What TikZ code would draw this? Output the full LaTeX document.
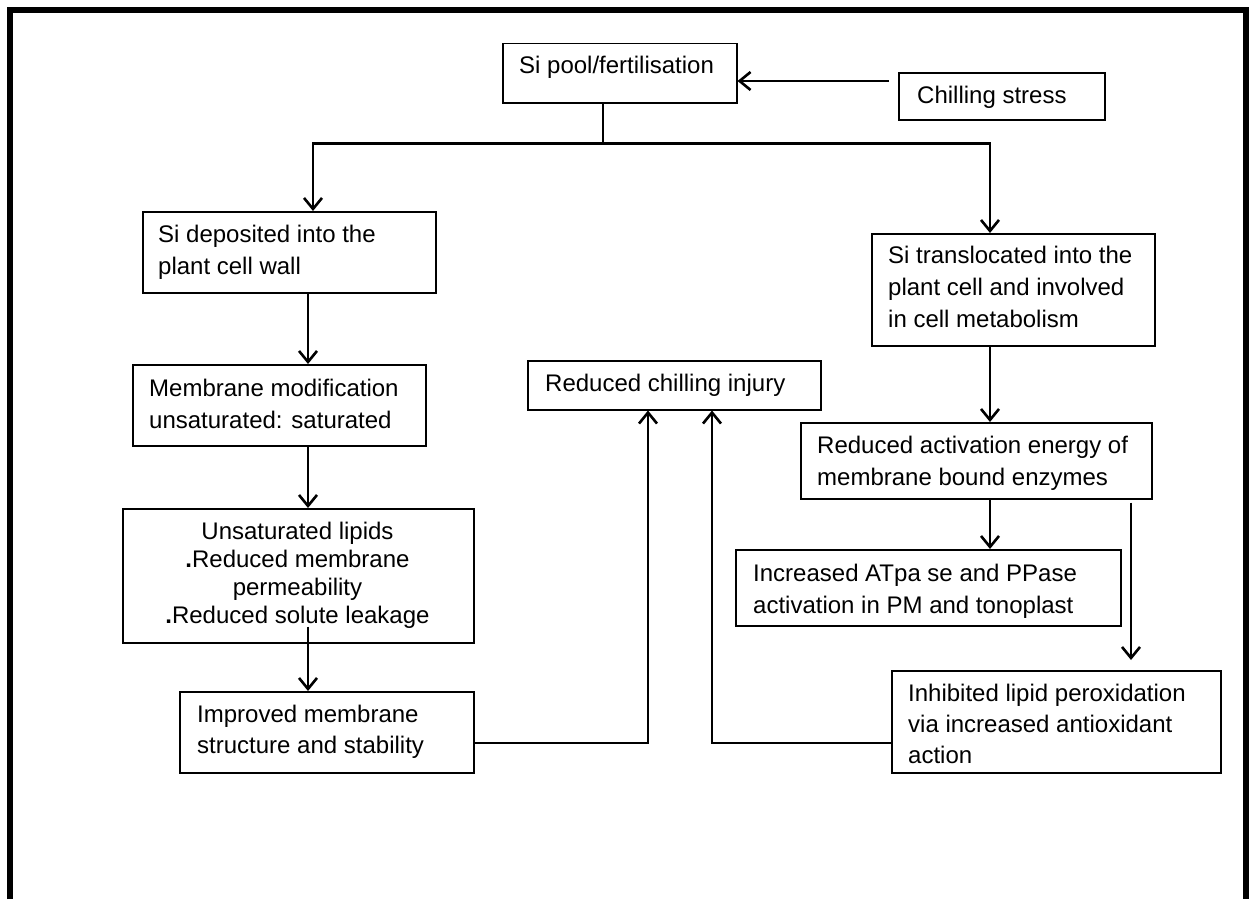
\documentclass[tikz,border=0pt]{standalone}
\usepackage{fontspec}
\setmainfont{Liberation Sans}
\usetikzlibrary{arrows.meta,calc}
\begin{document}
\begin{tikzpicture}[x=1pt,y=-1pt,
  box/.style={draw, line width=1.5pt, inner sep=0pt, anchor=north west},
  txt/.style={inner sep=0pt, anchor=base west, align=left, font=\fontsize{24}{32}\selectfont},
  arr/.style={line width=2.6pt, -{Straight Barb[length=11pt,width=18pt]}},
  ln/.style={line width=2.6pt},
  frame/.style={line width=6pt}]
\useasboundingbox (0,0) rectangle (1252,899);
\fill[white] (0,0) rectangle (1252,899);
\draw[frame] (10,899) -- (10,10) -- (1246,10) -- (1246,899);

% boxes
\node[box, minimum width=234pt, minimum height=59pt] (pool) at (502,43) {};
\node[box, minimum width=206pt, minimum height=47pt] (chill) at (898,72) {};
\node[box, minimum width=293pt, minimum height=81pt] (dep) at (142,211) {};
\node[box, minimum width=293pt, minimum height=81pt] (mod) at (132,364) {};
\node[box, minimum width=351pt, minimum height=134pt] (unsat) at (122,508) {};
\node[box, minimum width=294pt, minimum height=81pt] (imp) at (179,691) {};
\node[box, minimum width=293pt, minimum height=49pt] (red) at (527,360) {};
\node[box, minimum width=283pt, minimum height=112pt] (trans) at (871,233) {};
\node[box, minimum width=351pt, minimum height=76pt] (act) at (800,422) {};
\node[box, minimum width=385pt, minimum height=76pt] (atp) at (735,549) {};
\node[box, minimum width=329pt, minimum height=102pt] (inh) at (891,670) {};

% texts (base = baseline of the last line)
\node[txt] (tpool) at (519,74) {Si pool/fertilisation};
\node[txt] (tchill) at (917,103) {Chilling stress};
\node[txt] (tdep) at (158,274) {Si deposited into the\\plant cell wall};
\node[txt] (tmod) at (149,428) {Membrane modification\\unsaturated: saturated};
\node[txt, anchor=base, align=center, font=\fontsize{24}{28}\selectfont] (tunsat) at (297.5,623)
  {Unsaturated lipids\\\textbf{.}Reduced membrane\\permeability\\\textbf{.}Reduced solute leakage};
\node[txt, font=\fontsize{24}{31}\selectfont] (timp) at (197,753) {Improved membrane\\structure and stability};
\node[txt] (tred) at (545,391) {Reduced chilling injury};
\node[txt] (ttrans) at (888,327) {Si translocated into the\\plant cell and involved\\in cell metabolism};
\node[txt] (tact) at (817,485) {Reduced activation energy of\\membrane bound enzymes};
\node[txt] (tatp) at (753,613) {Increased ATpa se and PPase\\activation in PM and tonoplast};
\begin{scope}
\clip (inh.north west) rectangle ([yshift=7pt]inh.south east);
\node[txt, font=\fontsize{24}{31}\selectfont] (tinh) at (908,763) {Inhibited lipid peroxidation\\via increased antioxidant\\action};
\end{scope}

% connectors
\coordinate (split) at ($(pool.south west)+(101,40)$);
\draw[ln] ($(pool.south west)+(101,0)$) -- (split);
\draw[arr] (split) -| ($(dep.north west)+(171,0)$);
\draw[arr] (split) -| ($(trans.north west)+(119,0)$);
\draw[arr] ($(chill.north west)+(-9,9)$) -- ($(pool.north east)+(0,38)$);
\draw[arr] ($(dep.south west)+(166,0)$) -- ($(mod.north west)+(176,0)$);
\draw[arr] ($(mod.south west)+(176,0)$) -- ($(unsat.north west)+(186,0)$);
\draw[arr] ($(unsat.south west)+(186,-17)$) -- ($(imp.north west)+(129,0)$);
\draw[arr] ($(imp.north east)+(0,52)$) -| ($(red.south west)+(121,0)$);
\draw[arr] ($(inh.north west)+(0,73)$) -| ($(red.south west)+(185,0)$);
\draw[arr] ($(trans.south west)+(119,0)$) -- ($(act.north west)+(190,0)$);
\draw[arr] ($(act.south west)+(190,0)$) -- ($(atp.north west)+(255,0)$);
\draw[arr] ($(act.south west)+(331,3)$) -- ($(inh.north west)+(240,-10)$);
\end{tikzpicture}
\end{document}
